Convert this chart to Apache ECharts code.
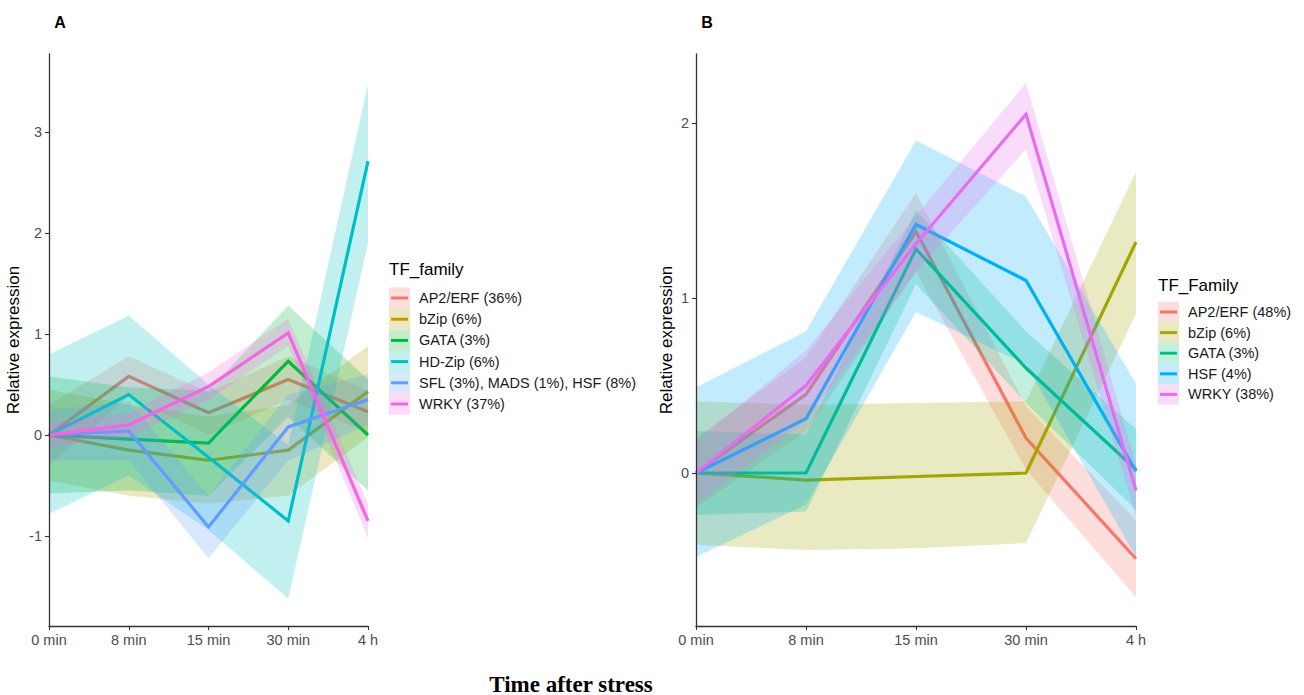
<!DOCTYPE html>
<html>
<head>
<meta charset="utf-8">
<script src="https://cdn.jsdelivr.net/npm/echarts@6/dist/echarts.min.js"></script>
<style>
html,body{margin:0;padding:0;background:#fff;}
#chart{width:1304px;height:695px;}
</style>
</head>
<body>
<div id="chart"></div>
<script>
// ---------- data ----------
const times = ['0 min', '8 min', '15 min', '30 min', '4 h'];

// Panel A
const namesA = ['AP2/ERF (36%)', 'bZip (6%)', 'GATA (3%)', 'HD-Zip (6%)', 'SFL (3%), MADS (1%), HSF (8%)', 'WRKY (37%)'];
const colorsA = ['#F8766D', '#B79F00', '#00BA38', '#00BFC4', '#619CFF', '#F564E3'];
const meanA_AP2  = [0, 0.58, 0.22, 0.55, 0.23];
const meanA_bZip = [0, -0.15, -0.25, -0.15, 0.43];
const meanA_GATA = [0, -0.04, -0.08, 0.73, 0.00];
const meanA_HDZ  = [0, 0.40, -0.22, -0.85, 2.71];
const meanA_SFL  = [0, 0.04, -0.91, 0.08, 0.35];
const meanA_WRKY = [0, 0.10, 0.48, 1.01, -0.85];
const lowA_AP2  = [-0.30, 0.38, 0.00, 0.35, 0.02];
const upA_AP2   = [0.30, 0.78, 0.42, 0.78, 0.44];
const lowA_bZip = [-0.45, -0.60, -0.68, -0.60, -0.02];
const upA_bZip  = [0.45, 0.30, 0.18, 0.30, 0.88];
const lowA_GATA = [-0.58, -0.55, -0.60, 0.18, -0.55];
const upA_GATA  = [0.58, 0.47, 0.44, 1.28, 0.55];
const lowA_HDZ  = [-0.78, -0.40, -0.94, -1.62, 1.90];
const upA_HDZ   = [0.80, 1.18, 0.50, -0.10, 3.47];
const lowA_SFL  = [-0.25, -0.25, -1.22, -0.25, 0.10];
const upA_SFL   = [0.25, 0.33, -0.60, 0.40, 0.60];
const lowA_WRKY = [-0.12, -0.02, 0.35, 0.88, -1.02];
const upA_WRKY  = [0.12, 0.22, 0.62, 1.15, -0.68];
const ticksA = [-1, 0, 1, 2, 3];

// Panel B
const namesB = ['AP2/ERF (48%)', 'bZip (6%)', 'GATA (3%)', 'HSF (4%)', 'WRKY (38%)'];
const colorsB = ['#F8766D', '#A3A500', '#00BF7D', '#00B0F6', '#E76BF3'];
const meanB_AP2  = [0, 0.45, 1.38, 0.20, -0.49];
const meanB_bZip = [0, -0.04, -0.02, 0.00, 1.32];
const meanB_GATA = [0, 0.00, 1.28, 0.60, 0.02];
const meanB_HSF  = [0, 0.31, 1.42, 1.10, 0.01];
const meanB_WRKY = [0, 0.50, 1.31, 2.05, -0.10];
const lowB_AP2  = [-0.20, 0.24, 1.15, 0.02, -0.71];
const upB_AP2   = [0.20, 0.66, 1.60, 0.38, -0.27];
const lowB_bZip = [-0.41, -0.44, -0.43, -0.40, 0.91];
const upB_bZip  = [0.41, 0.39, 0.40, 0.41, 1.72];
const lowB_GATA = [-0.24, -0.22, 1.08, 0.40, -0.21];
const upB_GATA  = [0.24, 0.22, 1.50, 0.81, 0.25];
const lowB_HSF  = [-0.48, -0.18, 0.92, 0.62, -0.48];
const upB_HSF   = [0.49, 0.81, 1.90, 1.58, 0.51];
const lowB_WRKY = [-0.18, 0.30, 1.15, 1.85, -0.25];
const upB_WRKY  = [0.18, 0.70, 1.47, 2.23, 0.05];
const ticksB = [0, 1, 2];

const yLabel = 'Relative expression';
const xLabel = 'Time after stress';
const legendTitleA = 'TF_family';
const legendTitleB = 'TF_Family';

// ---------- build ----------
const FONT = '"Liberation Sans", Arial, Helvetica, sans-serif';
const RIB_ALPHA = 0.24;
function rgba(hex, a) {
  const n = parseInt(hex.slice(1), 16);
  return 'rgba(' + (n >> 16 & 255) + ',' + (n >> 8 & 255) + ',' + (n & 255) + ',' + a + ')';
}

const panelA = {
  means: [meanA_AP2, meanA_bZip, meanA_GATA, meanA_HDZ, meanA_SFL, meanA_WRKY],
  lows: [lowA_AP2, lowA_bZip, lowA_GATA, lowA_HDZ, lowA_SFL, lowA_WRKY],
  ups: [upA_AP2, upA_bZip, upA_GATA, upA_HDZ, upA_SFL, upA_WRKY],
  names: namesA, colors: colorsA
};
const panelB = {
  means: [meanB_AP2, meanB_bZip, meanB_GATA, meanB_HSF, meanB_WRKY],
  lows: [lowB_AP2, lowB_bZip, lowB_GATA, lowB_HSF, lowB_WRKY],
  ups: [upB_AP2, upB_bZip, upB_GATA, upB_HSF, upB_WRKY],
  names: namesB, colors: colorsB
};

// each group: ribbon then its line (drawn in group order, like geom_smooth)
function groupSeries(p, axisIdx) {
  const out = [];
  p.names.forEach((nm, k) => {
    out.push({
      type: 'custom',
      name: nm + ' band',
      xAxisIndex: axisIdx, yAxisIndex: axisIdx,
      silent: true, z: 2 + 2 * k,
      encode: { x: 0, y: [1, 2] },
      data: times.map((t, i) => [i, p.lows[k][i], p.ups[k][i]]),
      renderItem: function (params, api) {
        if (params.dataIndex !== 0) return null;
        const n = times.length;
        const pts = [];
        for (let i = 0; i < n; i++) pts.push(api.coord([api.value(0, i), api.value(2, i)]));
        for (let i = n - 1; i >= 0; i--) pts.push(api.coord([api.value(0, i), api.value(1, i)]));
        return { type: 'polygon', shape: { points: pts }, style: { fill: rgba(p.colors[k], RIB_ALPHA) } };
      }
    });
    out.push({
      type: 'line',
      name: nm,
      xAxisIndex: axisIdx, yAxisIndex: axisIdx,
      data: p.means[k],
      symbol: 'none', silent: true, z: 3 + 2 * k,
      lineStyle: { color: p.colors[k], width: 3.2, join: 'miter' }
    });
  });
  return out;
}

function legendGraphics(p, title, x, yTitle, yFirst, step) {
  const g = [];
  g.push({ type: 'text', x: x, y: yTitle, style: { text: title, font: '17px ' + FONT, fill: '#000', textVerticalAlign: 'middle', verticalAlign: 'middle' } });
  p.names.forEach((nm, k) => {
    const cy = yFirst + k * step;
    g.push({ type: 'rect', shape: { x: x, y: cy - step / 2, width: 21, height: step }, style: { fill: rgba(p.colors[k], 0.24) } });
    g.push({ type: 'line', shape: { x1: x + 2, y1: cy, x2: x + 19, y2: cy }, style: { stroke: p.colors[k], lineWidth: 3 } });
    g.push({ type: 'text', x: x + 30, y: cy, style: { text: nm, font: '14.5px ' + FONT, fill: '#1a1a1a', textVerticalAlign: 'middle', verticalAlign: 'middle' } });
  });
  return g;
}

function xAxisCfg(gi) {
  return {
    type: 'category', gridIndex: gi, data: times, boundaryGap: false, z: 20,
    axisLine: { onZero: false, lineStyle: { color: '#333', width: 1.3 } },
    axisTick: { length: 4, lineStyle: { color: '#333', width: 1.1 }, alignWithLabel: true },
    axisLabel: { color: '#4D4D4D', fontSize: 14.5, fontFamily: FONT, margin: 6 },
    splitLine: { show: false }
  };
}
function yAxisCfg(gi, min, max, ticks, gap) {
  return {
    type: 'value', gridIndex: gi, min: min, max: max, z: 20,
    name: yLabel, nameLocation: 'middle', nameGap: gap, nameRotate: 90,
    nameTextStyle: { color: '#000', fontSize: 17, fontFamily: FONT },
    axisLine: { show: true, onZero: false, lineStyle: { color: '#333', width: 1.3 } },
    axisTick: { show: true, length: 4, lineStyle: { color: '#333', width: 1.1 }, customValues: ticks },
    axisLabel: { color: '#4D4D4D', fontSize: 14.5, fontFamily: FONT, margin: 7, customValues: ticks },
    splitLine: { show: false }
  };
}

const chart = echarts.init(document.getElementById('chart'), null, { renderer: 'svg' });
chart.setOption({
  animation: false,
  backgroundColor: '#fff',
  grid: [
    { left: 49, top: 54, width: 319, height: 572 },
    { left: 696, top: 54, width: 440, height: 572 }
  ],
  xAxis: [xAxisCfg(0), xAxisCfg(1)],
  yAxis: [yAxisCfg(0, -1.89, 3.77, ticksA, 27), yAxisCfg(1, -0.874, 2.394, ticksB, 21)],
  series: [].concat(groupSeries(panelA, 0), groupSeries(panelB, 1)),
  graphic: [].concat(
    [
      { type: 'text', x: 60, y: 22, style: { text: 'A', font: 'bold 16px ' + FONT, fill: '#000', textAlign: 'center', align: 'center', textVerticalAlign: 'middle', verticalAlign: 'middle' } },
      { type: 'text', x: 707, y: 22, style: { text: 'B', font: 'bold 16px ' + FONT, fill: '#000', textAlign: 'center', align: 'center', textVerticalAlign: 'middle', verticalAlign: 'middle' } },
      { type: 'text', x: 571, y: 684, style: { text: xLabel, font: 'bold 23px "Liberation Serif", "Times New Roman", serif', fill: '#000', textAlign: 'center', align: 'center', textVerticalAlign: 'middle', verticalAlign: 'middle' } }
    ],
    legendGraphics(panelA, legendTitleA, 389, 269, 298, 21.2),
    legendGraphics(panelB, legendTitleB, 1158, 285, 312, 20.6)
  )
});
</script>
</body>
</html>
